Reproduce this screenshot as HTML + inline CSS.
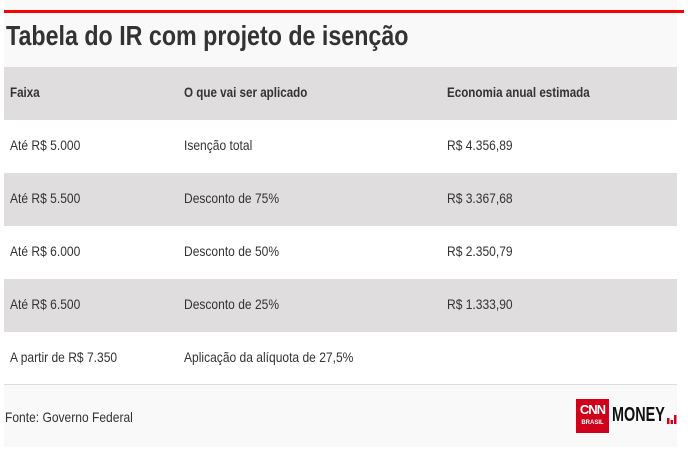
<!DOCTYPE html>
<html><head><meta charset="utf-8"><style>
body{margin:0;width:688px;height:457px;background:#fff;overflow:hidden;font-family:"Liberation Sans",sans-serif;color:#333}
.wrap{position:absolute;left:4px;top:0;width:673px;height:447px;background:#f9f9f9}
.red{position:absolute;left:4px;top:10px;width:680px;height:3px;background:#f00}
h1{position:absolute;left:6px;top:20px;margin:0;font-size:28px;font-weight:bold;color:#333;white-space:nowrap;transform:scaleX(0.83);transform-origin:0 0}
.row{position:absolute;left:4px;width:673px;height:53px;font-size:14px}
.row span{position:absolute;top:17px;white-space:nowrap;transform:scaleX(0.86);transform-origin:0 0}
.c1{left:6px}.c2{left:180px}.c3{left:443px}
.g{background:#dfdddd}.w{background:#fff}
.hd span{font-weight:bold;transform:scaleX(0.83)!important}
.line{position:absolute;left:4px;top:384px;width:673px;height:1px;background:#ddd}
.src{position:absolute;left:5px;top:409px;font-size:14px;transform:scaleX(0.86);transform-origin:0 0;white-space:nowrap}
.logo{position:absolute;left:576px;top:399px;width:33px;height:34px;background:#d0021b;color:#fff;font-weight:bold;font-size:13px;text-align:center;line-height:22px;letter-spacing:-1px}
.logo small{position:absolute;left:0;right:0;top:20px;font-size:6px;line-height:8px;letter-spacing:0}
.money{position:absolute;left:612px;top:404px;font-size:20px;font-weight:bold;color:#111;transform:scaleX(0.72);transform-origin:0 0}
.bars{position:absolute;left:667px;top:414px;width:10px;height:10px}
</style></head><body>
<div class="wrap"></div>
<div class="red"></div>
<h1>Tabela do IR com projeto de isenção</h1>
<div class="row g hd" style="top:67px"><span class="c1">Faixa</span><span class="c2">O que vai ser aplicado</span><span class="c3">Economia anual estimada</span></div>
<div class="row w" style="top:120px"><span class="c1">Até R$ 5.000</span><span class="c2">Isenção total</span><span class="c3">R$ 4.356,89</span></div>
<div class="row g" style="top:173px"><span class="c1">Até R$ 5.500</span><span class="c2">Desconto de 75%</span><span class="c3">R$ 3.367,68</span></div>
<div class="row w" style="top:226px"><span class="c1">Até R$ 6.000</span><span class="c2">Desconto de 50%</span><span class="c3">R$ 2.350,79</span></div>
<div class="row g" style="top:279px"><span class="c1">Até R$ 6.500</span><span class="c2">Desconto de 25%</span><span class="c3">R$ 1.333,90</span></div>
<div class="row w" style="top:332px;height:52px"><span class="c1">A partir de R$ 7.350</span><span class="c2">Aplicação da alíquota de 27,5%</span></div>
<div class="line"></div>
<div class="src">Fonte: Governo Federal</div>
<div class="logo">CNN<small>BRASIL</small></div>
<div class="money">MONEY</div>
<svg class="bars" viewBox="0 0 10 10"><rect x="0" y="4" width="2.5" height="6" fill="#d0021b"/><rect x="3.5" y="6" width="2.5" height="4" fill="#d0021b"/><rect x="7" y="1" width="2.5" height="9" fill="#d0021b"/></svg>
</body></html>
